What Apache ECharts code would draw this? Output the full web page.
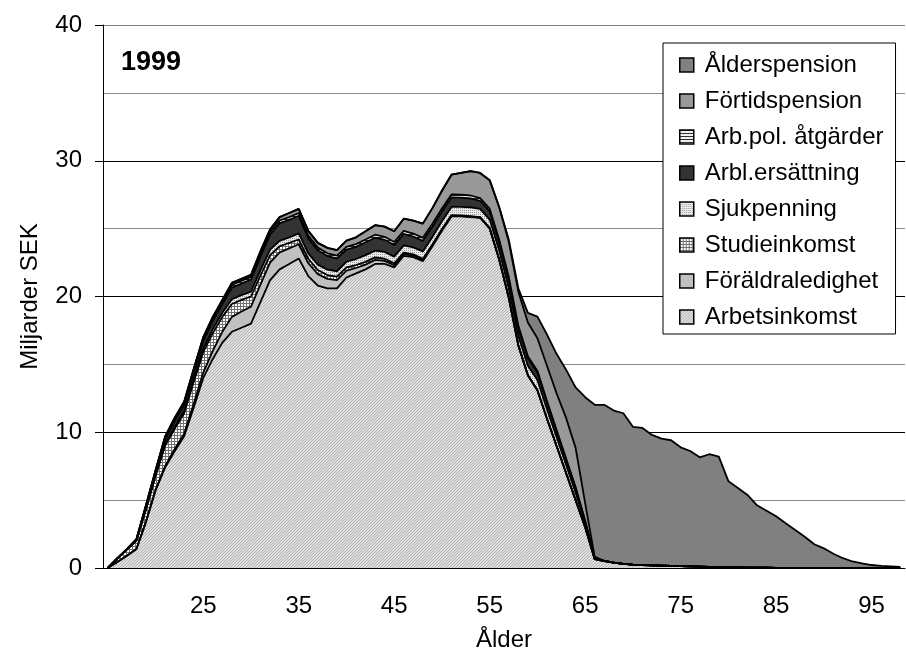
<!DOCTYPE html>
<html>
<head>
<meta charset="utf-8">
<script src="https://cdn.jsdelivr.net/npm/echarts@6/dist/echarts.min.js"></script>
<style>
  html, body { margin: 0; padding: 0; background: #fff; }
  #chart { width: 906px; height: 659px; }
</style>
</head>
<body>
<div id="chart"></div>
<script>
// ålder 15..98
const ages = ['15','16','17','18','19','20','21','22','23','24','25','26','27','28','29',
  '30','31','32','33','34','35','36','37','38','39','40','41','42','43','44','45','46','47','48','49',
  '50','51','52','53','54','55','56','57','58','59','60','61','62','63','64','65','66','67','68','69',
  '70','71','72','73','74','75','76','77','78','79','80','81','82','83','84','85','86','87','88','89',
  '90','91','92','93','94','95','96','97','98'];
const tickLabels = ['25','35','45','55','65','75','85','95'];

// miljarder SEK per åldersklass
const arbetsinkomst = [0, 0.45, 0.9, 1.4, 3.4,
  5.7, 7.4, 8.6, 9.7, 11.8, 14.0, 15.4, 16.6, 17.4, 17.7,
  18.0, 19.6, 21.2, 22.0, 22.4, 22.8, 21.5, 20.8, 20.6, 20.6,
  21.4, 21.7, 22.0, 22.4, 22.4, 22.15, 23.0, 22.9, 22.6, 23.7,
  24.85, 25.9, 25.9, 25.85, 25.8, 25.0, 22.7, 19.9, 16.4, 14.2,
  13.1, 11.0, 9.0, 7.0, 5.0, 3.0, 0.65, 0.5, 0.4, 0.3,
  0.25, 0.22, 0.2, 0.18, 0.16, 0.14, 0.12, 0.1, 0.08, 0.06,
  0.05, 0.04, 0.03, 0.02, 0.02, 0.01, 0, 0, 0, 0,
  0, 0, 0, 0, 0, 0, 0, 0, 0];
const foraldraledighet = [0, 0, 0, 0, 0,
  0.05, 0.1, 0.15, 0.2, 0.3, 0.4, 0.6, 0.8, 1.1, 1.2,
  1.25, 1.3, 1.3, 1.25, 1.15, 1.05, 0.95, 0.85, 0.7, 0.6,
  0.5, 0.4, 0.35, 0.3, 0.22, 0.15, 0.12, 0.1, 0.08, 0.06,
  0.05, 0.04, 0.03, 0.03, 0.02, 0.02, 0.01, 0, 0, 0,
  0, 0, 0, 0, 0, 0, 0, 0, 0, 0,
  0, 0, 0, 0, 0, 0, 0, 0, 0, 0,
  0, 0, 0, 0, 0, 0, 0, 0, 0, 0,
  0, 0, 0, 0, 0, 0, 0, 0, 0];
const studieinkomst = [0, 0.25, 0.45, 0.6, 0.9,
  1.0, 1.5, 1.5, 1.5, 1.6, 1.5, 1.3, 1.1, 0.95, 0.85,
  0.75, 0.65, 0.55, 0.45, 0.4, 0.35, 0.33, 0.3, 0.28, 0.26,
  0.24, 0.22, 0.2, 0.18, 0.16, 0.14, 0.12, 0.1, 0.09, 0.08,
  0.07, 0.06, 0.05, 0.04, 0.03, 0.03, 0.02, 0.01, 0, 0,
  0, 0, 0, 0, 0, 0, 0, 0, 0, 0,
  0, 0, 0, 0, 0, 0, 0, 0, 0, 0,
  0, 0, 0, 0, 0, 0, 0, 0, 0, 0,
  0, 0, 0, 0, 0, 0, 0, 0, 0];
const sjukpenning = [0, 0, 0, 0.02, 0.05,
  0.08, 0.12, 0.15, 0.15, 0.2, 0.25, 0.3, 0.3, 0.35, 0.35,
  0.35, 0.4, 0.4, 0.4, 0.4, 0.45, 0.4, 0.4, 0.4, 0.4,
  0.42, 0.44, 0.5, 0.5, 0.5, 0.5, 0.52, 0.52, 0.55, 0.55,
  0.58, 0.6, 0.62, 0.64, 0.6, 0.62, 0.65, 0.7, 0.7, 0.7,
  0.75, 0.7, 0.65, 0.6, 0.55, 0.3, 0.05, 0.02, 0, 0,
  0, 0, 0, 0, 0, 0, 0, 0, 0, 0,
  0, 0, 0, 0, 0, 0, 0, 0, 0, 0,
  0, 0, 0, 0, 0, 0, 0, 0, 0];
const arblersattning = [0, 0, 0.02, 0.05, 0.15,
  0.2, 0.35, 0.4, 0.45, 0.5, 0.55, 0.6, 0.65, 0.85, 0.85,
  0.9, 1.0, 1.1, 1.3, 1.3, 1.3, 1.1, 1.05, 1.0, 0.95,
  0.9, 0.9, 0.95, 0.95, 0.9, 0.85, 0.85, 0.8, 0.78, 0.75,
  0.72, 0.7, 0.68, 0.66, 0.6, 0.6, 0.6, 0.65, 0.6, 0.55,
  0.55, 0.5, 0.45, 0.4, 0.35, 0.15, 0.02, 0, 0, 0,
  0, 0, 0, 0, 0, 0, 0, 0, 0, 0,
  0, 0, 0, 0, 0, 0, 0, 0, 0, 0,
  0, 0, 0, 0, 0, 0, 0, 0, 0];
const arbpolAtgarder = [0, 0, 0.02, 0.05, 0.1,
  0.1, 0.15, 0.2, 0.2, 0.2, 0.2, 0.2, 0.2, 0.2, 0.2,
  0.2, 0.2, 0.2, 0.2, 0.2, 0.2, 0.2, 0.2, 0.2, 0.2,
  0.2, 0.2, 0.2, 0.22, 0.22, 0.22, 0.22, 0.22, 0.22, 0.22,
  0.22, 0.22, 0.22, 0.22, 0.2, 0.2, 0.2, 0.18, 0.16, 0.14,
  0.12, 0.1, 0.08, 0.06, 0.05, 0.03, 0, 0, 0, 0,
  0, 0, 0, 0, 0, 0, 0, 0, 0, 0,
  0, 0, 0, 0, 0, 0, 0, 0, 0, 0,
  0, 0, 0, 0, 0, 0, 0, 0, 0];
const fortidspension = [0, 0, 0, 0, 0.02,
  0.05, 0.05, 0.05, 0.05, 0.05, 0.1, 0.1, 0.1, 0.15, 0.15,
  0.15, 0.2, 0.2, 0.25, 0.3, 0.3, 0.35, 0.35, 0.4, 0.4,
  0.45, 0.5, 0.6, 0.7, 0.75, 0.8, 0.9, 0.95, 1.05, 1.15,
  1.3, 1.45, 1.6, 1.8, 1.85, 2.1, 2.4, 2.6, 2.5, 2.5,
  2.4, 2.6, 2.7, 3.0, 2.9, 1.3, 0.1, 0, 0, 0,
  0, 0, 0, 0, 0, 0, 0, 0, 0, 0,
  0, 0, 0, 0, 0, 0, 0, 0, 0, 0,
  0, 0, 0, 0, 0, 0, 0, 0, 0];
const alderspension = [0, 0, 0, 0, 0,
  0, 0, 0, 0, 0, 0, 0, 0, 0, 0,
  0, 0, 0, 0, 0, 0, 0, 0, 0, 0,
  0, 0, 0, 0, 0, 0, 0, 0, 0, 0,
  0, 0, 0, 0, 0, 0, 0, 0.15, 0.25, 0.7,
  1.6, 2.3, 2.9, 3.55, 4.45, 7.8, 11.2, 11.5, 11.2, 11.1,
  10.15, 10.1, 9.6, 9.35, 9.25, 8.75, 8.5, 8.05, 8.3, 8.15,
  6.35, 5.85, 5.35, 4.6, 4.2, 3.8, 3.3, 2.8, 2.3, 1.75,
  1.45, 1.05, 0.72, 0.48, 0.34, 0.22, 0.16, 0.12, 0.08];

const font = 'Liberation Sans, Arial, sans-serif';

// små mönster som i Excel
function pattern(size, bg, draw) {
    const c = document.createElement('canvas');
    c.width = size;
    c.height = size;
    const ctx = c.getContext('2d');
    ctx.fillStyle = bg;
    ctx.fillRect(0, 0, size, size);
    draw(ctx);
    return { image: c, repeat: 'repeat' };
}
const hatch = pattern(3, '#dedede', ctx => {
    ctx.fillStyle = '#b4b4b4';
    for (let i = 0; i < 3; i++) ctx.fillRect(i, 2 - i, 1, 1);
});
const grid = pattern(3, '#ffffff', ctx => {
    ctx.fillStyle = '#707070';
    ctx.fillRect(0, 0, 3, 1);
    ctx.fillRect(0, 0, 1, 3);
});
const dots = pattern(2, '#ececec', ctx => {
    ctx.fillStyle = '#9a9a9a';
    ctx.fillRect(0, 0, 1, 1);
});
const stripes = pattern(3, '#f0f0f0', ctx => {
    ctx.fillStyle = '#303030';
    ctx.fillRect(0, 0, 3, 1);
});

const layers = [
    { name: 'Arbetsinkomst', data: arbetsinkomst, fill: hatch },
    { name: 'Föräldraledighet', data: foraldraledighet, fill: '#c0c0c0' },
    { name: 'Studieinkomst', data: studieinkomst, fill: grid },
    { name: 'Sjukpenning', data: sjukpenning, fill: dots },
    { name: 'Arbl.ersättning', data: arblersattning, fill: '#333333' },
    { name: 'Arb.pol. åtgärder', data: arbpolAtgarder, fill: stripes },
    { name: 'Förtidspension', data: fortidspension, fill: '#999999' },
    { name: 'Ålderspension', data: alderspension, fill: '#808080' }
];

const chart = echarts.init(document.getElementById('chart'));
const option = {
    backgroundColor: '#fff',
    animation: false,
    grid: { left: 103, right: 1, top: 25, bottom: 91 },
    graphic: [{
        type: 'text', left: 121, top: 49,
        style: { text: '1999', font: 'bold 27px ' + font, fill: '#000' }
    }],
    legend: {
        orient: 'vertical',
        left: 663,
        top: 43,
        data: layers.map(l => l.name).reverse(),
        icon: 'rect',
        itemWidth: 14,
        itemHeight: 14,
        itemGap: 12,
        padding: [10, 12, 5, 16],
        backgroundColor: '#fff',
        borderColor: '#000',
        borderWidth: 1,
        selectedMode: false,
        itemStyle: { borderColor: '#000', borderWidth: 1.5 },
        textStyle: { fontFamily: font, fontSize: 24, color: '#000', padding: [0, 0, 0, 6] }
    },
    xAxis: {
        type: 'category',
        data: ages,
        boundaryGap: true,
        name: 'Ålder',
        nameLocation: 'middle',
        nameGap: 60,
        nameTextStyle: { fontFamily: font, fontSize: 24, color: '#000' },
        axisLine: { lineStyle: { color: '#000', width: 1 } },
        axisTick: { interval: 4, length: 8, lineStyle: { color: '#000' } },
        axisLabel: {
            interval: (i, v) => tickLabels.includes(v),
            fontFamily: font, fontSize: 24, color: '#000', margin: 26
        },
        splitLine: { show: false }
    },
    yAxis: {
        type: 'value',
        min: 0,
        max: 40,
        interval: 10,
        name: 'Miljarder SEK',
        nameLocation: 'middle',
        nameGap: 61,
        nameTextStyle: { fontFamily: font, fontSize: 24, color: '#000' },
        axisLine: { show: true, lineStyle: { color: '#000', width: 1 } },
        axisTick: { show: true, length: 8, lineStyle: { color: '#000' } },
        axisLabel: { fontFamily: font, fontSize: 24, color: '#000', margin: 21 },
        splitLine: { lineStyle: { color: ['#000', '#000', '#000', '#000', '#808080'], width: 1 } },
        minorTick: { show: false, splitNumber: 2 },
        minorSplitLine: { show: true, lineStyle: { color: '#8c8c8c', width: 1 } }
    },
    series: layers.map(l => ({
        name: l.name,
        type: 'line',
        stack: 'total',
        data: l.data,
        symbol: 'none',
        silent: true,
        lineStyle: { color: '#000', width: 1.8 },
        itemStyle: { color: l.fill, borderColor: '#000' },
        areaStyle: { color: l.fill, opacity: 1 }
    }))
};
chart.setOption(option);
</script>
</body>
</html>
